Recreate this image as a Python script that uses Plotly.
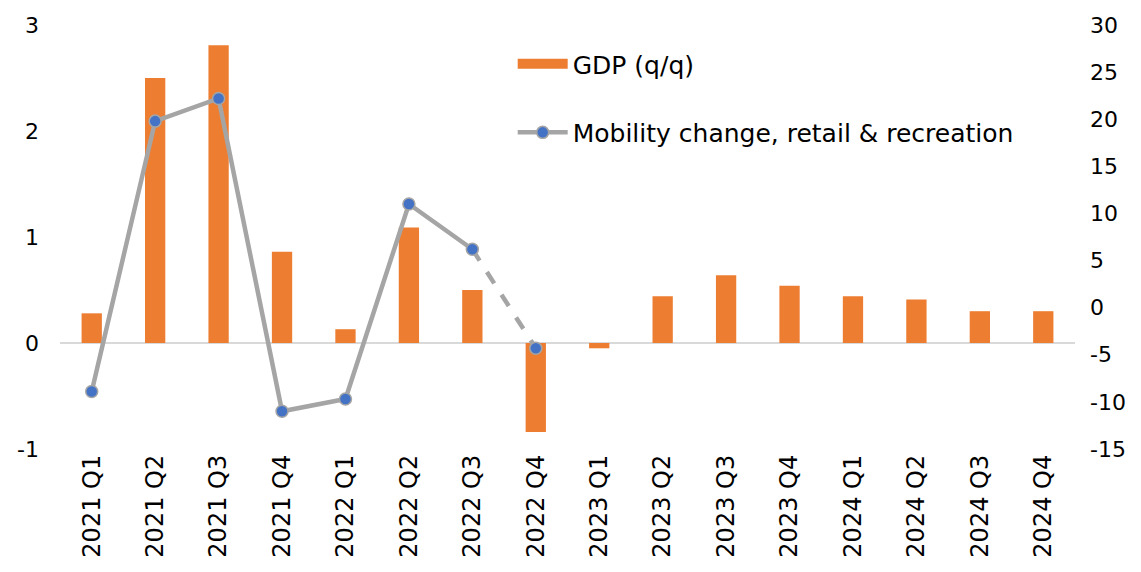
import plotly.graph_objects as go

categories = ["2021 Q1", "2021 Q2", "2021 Q3", "2021 Q4",
              "2022 Q1", "2022 Q2", "2022 Q3", "2022 Q4",
              "2023 Q1", "2023 Q2", "2023 Q3", "2023 Q4",
              "2024 Q1", "2024 Q2", "2024 Q3", "2024 Q4"]
gdp_qq = [0.28, 2.5, 2.81, 0.86, 0.13, 1.09, 0.5, -0.84,
          -0.05, 0.44, 0.64, 0.54, 0.44, 0.41, 0.3, 0.3]
mobility_cats = categories[:8]
mobility = [-8.9, 19.8, 22.2, -11.0, -9.7, 11.0, 6.2, -4.3]

left_ticks = [-1, 0, 1, 2, 3]
right_ticks = [-15, -10, -5, 0, 5, 10, 15, 20, 25, 30]

FONT = "DejaVu Sans"
ORANGE = "#ED7D31"
GREY = "#A5A5A5"
BLUE = "#4472C4"

fig = go.Figure()
fig.add_trace(go.Bar(
    x=categories, y=gdp_qq, name="GDP (q/q)",
    marker=dict(color=ORANGE, line=dict(width=0)),
    width=0.32, showlegend=False, yaxis="y"))
# legend entry for GDP (wide rectangle look)
fig.add_trace(go.Scatter(
    x=[None], y=[None], mode="lines", name="GDP (q/q)",
    line=dict(color=ORANGE, width=14), legendgroup="a", yaxis="y"))
fig.add_trace(go.Scatter(
    x=mobility_cats[6:8], y=mobility[6:8], mode="lines",
    line=dict(color=GREY, width=4.5, dash="dash"),
    showlegend=False, yaxis="y2", hoverinfo="skip"))
fig.add_trace(go.Scatter(
    x=mobility_cats[:7], y=mobility[:7], mode="lines",
    line=dict(color=GREY, width=4.5),
    showlegend=False, yaxis="y2", hoverinfo="skip"))
fig.add_trace(go.Scatter(
    x=mobility_cats, y=mobility, mode="markers",
    name="Mobility change, retail & recreation",
    marker=dict(color=BLUE, size=12, line=dict(color=GREY, width=1.5)),
    showlegend=False, yaxis="y2"))
fig.add_trace(go.Scatter(
    x=[None], y=[None], mode="lines+markers",
    name="Mobility change, retail & recreation",
    line=dict(color=GREY, width=4.5),
    marker=dict(color=BLUE, size=12, line=dict(color=GREY, width=1.5)),
    legendgroup="b", yaxis="y2"))

fig.update_layout(
    width=1141, height=572,
    margin=dict(l=60, r=66, t=25, b=123, autoexpand=False),
    paper_bgcolor="white", plot_bgcolor="white",
    font=dict(family=FONT, size=22, color="#000000"),
    showlegend=True,
    legend=dict(x=0.446, y=0.962, xanchor="left", yanchor="top",
                bgcolor="rgba(0,0,0,0)", tracegroupgap=33,
                font=dict(size=25), itemwidth=50),
    xaxis=dict(type="category", tickangle=-90, showgrid=False,
               showline=False, ticks="", tickfont=dict(size=24),
               range=[-0.5, 15.5], automargin=False),
    yaxis=dict(range=[-1, 3], tickvals=left_ticks,
               ticktext=[str(v) for v in left_ticks],
               showgrid=False, zeroline=True,
               zerolinecolor="#D9D9D9", zerolinewidth=1.5,
               ticks="", showline=False, ticklabelstandoff=20,
               automargin=False),
    yaxis2=dict(range=[-15, 30], tickvals=right_ticks,
                ticktext=[str(v) for v in right_ticks],
                overlaying="y", side="right",
                showgrid=False, zeroline=False, ticks="", showline=False,
                ticklabelstandoff=14, automargin=False),
)
fig.write_html("out.html", config={"displayModeBar": False},
               post_script="document.body.style.margin='0';document.body.style.overflow='hidden';")
